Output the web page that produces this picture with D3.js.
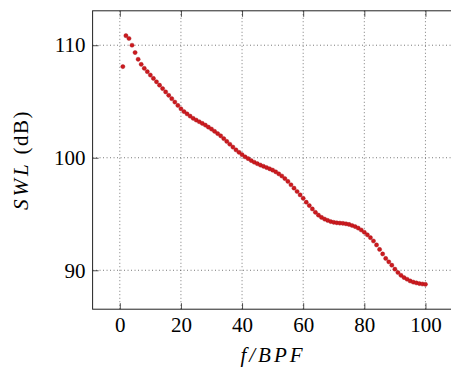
<!DOCTYPE html>
<html>
<head>
<meta charset="utf-8">
<script src="https://cdn.jsdelivr.net/npm/d3@7"></script>
<style>
  html, body { margin: 0; padding: 0; background: #fff; }
  svg { display: block; }
</style>
</head>
<body>
<script>
// harmonic order (f/BPF)
const order = d3.range(1, 101);
// sound power level, dB
const swl = [
  108.1, 110.85, 110.6, 110.0, 109.35, 108.75, 108.3, 107.95, 107.65, 107.35,
  107.05, 106.75, 106.45, 106.15, 105.85, 105.55, 105.25, 104.95, 104.65, 104.35,
  104.1, 103.9, 103.7, 103.5, 103.35, 103.2, 103.05, 102.9, 102.72, 102.55,
  102.35, 102.15, 101.95, 101.7, 101.45, 101.2, 100.95, 100.7, 100.48, 100.27,
  100.08, 99.92, 99.75, 99.6, 99.47, 99.35, 99.24, 99.13, 99.02, 98.9,
  98.75, 98.57, 98.38, 98.15, 97.9, 97.6, 97.3, 97.0, 96.7, 96.4,
  96.05, 95.75, 95.45, 95.15, 94.9, 94.7, 94.55, 94.43, 94.33, 94.26,
  94.22, 94.19, 94.17, 94.13, 94.07, 93.98, 93.88, 93.75, 93.58, 93.38,
  93.15, 92.9, 92.6, 92.25, 91.85, 91.45, 91.05, 90.75, 90.45, 90.1,
  89.8, 89.55, 89.35, 89.2, 89.05, 88.95, 88.88, 88.82, 88.78, 88.75
];
const xTicks = [0, 20, 40, 60, 80, 100];
const yTicks = [90, 100, 110];

const width = 451, height = 367;
const font = 'Liberation Serif';
const fontSize = 21;

const svg = d3.select('body')
  .append('svg')
  .attr('width', width)
  .attr('height', height);

// pgfplots-like enlarged limits
const x = d3.scaleLinear().domain([-8.9, 109.9]).range([92.6, 455.7]);
const y = d3.scaleLinear().domain([86.54, 113.06]).range([309.2, 10.8]);

const x0 = x.range()[0], x1 = x.range()[1];
const y0 = y.range()[1], y1 = y.range()[0];

// grid
const grid = svg.append('g')
  .attr('stroke', '#444')
  .attr('stroke-width', 0.8)
  .attr('stroke-dasharray', '0.9,2.6');

grid.selectAll('.vg')
  .data(xTicks)
  .join('line')
  .attr('x1', d => x(d)).attr('x2', d => x(d))
  .attr('y1', y0).attr('y2', y1);

grid.selectAll('.hg')
  .data(yTicks)
  .join('line')
  .attr('x1', x0).attr('x2', x1)
  .attr('y1', d => y(d)).attr('y2', d => y(d));

// axes, ticks pointing inward
const xAxis = d3.axisBottom(x).tickValues(xTicks).tickSize(-6).tickPadding(8);
const xAxisTop = d3.axisTop(x).tickValues(xTicks).tickSize(-6).tickFormat('');
const yAxis = d3.axisLeft(y).tickValues(yTicks).tickSize(-6).tickPadding(7);

const gx = svg.append('g').attr('transform', `translate(0,${y1})`).call(xAxis);
const gxt = svg.append('g').attr('transform', `translate(0,${y0})`).call(xAxisTop);
const gy = svg.append('g').attr('transform', `translate(${x0},0)`).call(yAxis);

[gx, gxt, gy].forEach(g => {
  g.attr('font-family', font).attr('font-size', fontSize);
  g.select('.domain').remove();
  g.selectAll('.tick line').attr('stroke', '#222').attr('stroke-width', 0.8);
  g.selectAll('.tick text').attr('fill', '#000');
});
gx.selectAll('.tick text').attr('dy', '0.71em');

// frame
svg.append('rect')
  .attr('x', x0).attr('y', y0)
  .attr('width', x1 - x0).attr('height', y1 - y0)
  .attr('fill', 'none')
  .attr('stroke', '#222')
  .attr('stroke-width', 1);

// points
svg.append('g')
  .selectAll('circle')
  .data(order)
  .join('circle')
  .attr('cx', d => x(d))
  .attr('cy', (d, i) => y(swl[i]))
  .attr('r', 2.1)
  .attr('fill', '#cc1a1e')
  .attr('stroke', '#a31016')
  .attr('stroke-width', 0.4);

// axis labels
svg.append('text')
  .attr('x', 273)
  .attr('y', 362)
  .attr('text-anchor', 'middle')
  .attr('font-family', font)
  .attr('font-size', fontSize)
  .attr('font-style', 'italic')
  .attr('letter-spacing', 3)
  .text('f/BPF');

const yl = svg.append('text')
  .attr('transform', 'translate(28,160) rotate(-90)')
  .attr('text-anchor', 'middle')
  .attr('font-family', font)
  .attr('font-size', fontSize)
  .attr('letter-spacing', 1.5);
yl.append('tspan').attr('font-style', 'italic').attr('letter-spacing', 3).text('SWL');
yl.append('tspan').text(' (dB)');
</script>
</body>
</html>
